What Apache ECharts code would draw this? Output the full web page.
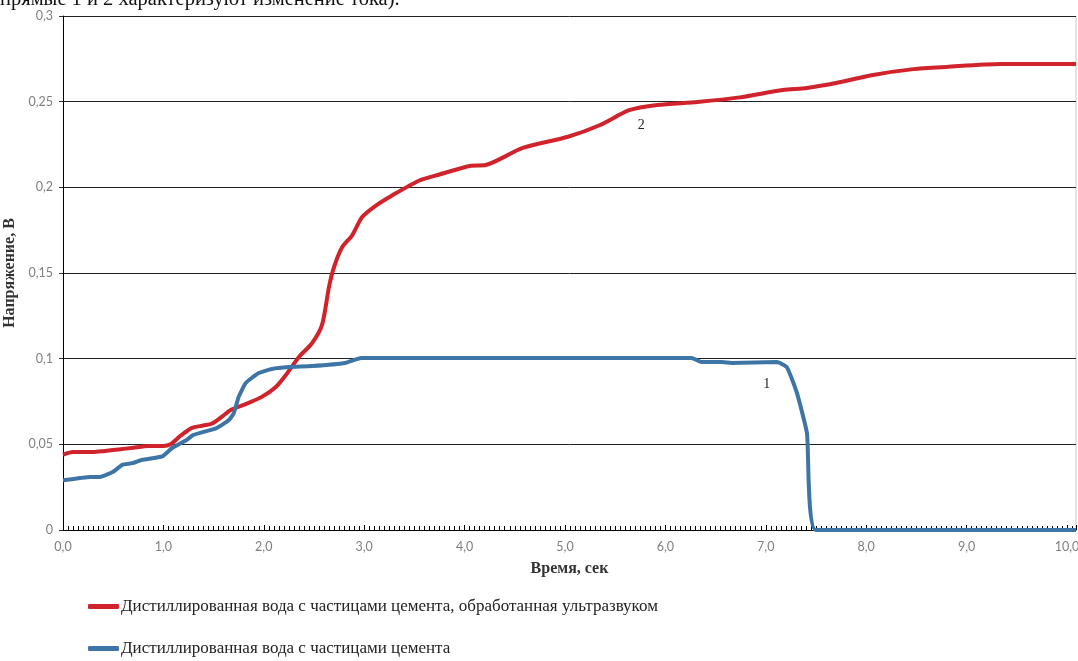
<!DOCTYPE html>
<html>
<head>
<meta charset="utf-8">
<script src="https://cdn.jsdelivr.net/npm/echarts@6/dist/echarts.min.js"></script>
<style>
  html, body { margin: 0; padding: 0; background: #fff; }
  #chart { width: 1078px; height: 661px; }
</style>
</head>
<body>
<div id="chart"></div>
<script>
// Time (s) and voltage (V) for the ultrasound-treated suspension (curve 2)
const timeTreated = [0.00, 0.10, 0.30, 0.40, 0.55, 0.70, 0.85, 1.00, 1.07, 1.17, 1.28, 1.40, 1.48, 1.58, 1.67, 1.82, 1.98, 2.12, 2.22, 2.35, 2.48, 2.58, 2.65, 2.70, 2.78, 2.88, 2.98, 3.12, 3.27, 3.55, 3.75, 4.05, 4.21, 4.58, 5.03, 5.35, 5.64, 5.92, 6.32, 6.74, 7.17, 7.41, 7.71, 8.07, 8.47, 8.80, 9.34, 10.09];
const voltTreated = [0.044, 0.0455, 0.0455, 0.046, 0.047, 0.048, 0.049, 0.049, 0.050, 0.055, 0.0595, 0.061, 0.062, 0.066, 0.070, 0.0735, 0.0777, 0.0835, 0.0905, 0.101, 0.109, 0.1197, 0.142, 0.1535, 0.165, 0.172, 0.1827, 0.1895, 0.195, 0.204, 0.2075, 0.2125, 0.213, 0.223, 0.2295, 0.2364, 0.245, 0.248, 0.2498, 0.2525, 0.2568, 0.258, 0.261, 0.2656, 0.269, 0.2703, 0.272, 0.272];

// Time (s) and voltage (V) for the untreated suspension (curve 1)
const timePlain = [0.00, 0.17, 0.27, 0.37, 0.50, 0.59, 0.69, 0.79, 0.99, 1.09, 1.23, 1.30, 1.53, 1.65, 1.70, 1.75, 1.82, 1.95, 2.08, 2.25, 2.48, 2.81, 2.97, 6.26, 6.36, 6.56, 6.66, 7.11, 7.21, 7.31, 7.41, 7.50, 10.09];
const voltPlain = [0.029, 0.0303, 0.031, 0.031, 0.034, 0.038, 0.039, 0.041, 0.043, 0.048, 0.0525, 0.0555, 0.0595, 0.064, 0.068, 0.0777, 0.0858, 0.0916, 0.094, 0.0951, 0.0957, 0.0975, 0.1004, 0.1004, 0.098, 0.098, 0.0975, 0.098, 0.095, 0.080, 0.0566, 0, 0];

const seriesNames = [
  'Дистиллированная вода с частицами цемента, обработанная ультразвуком',
  'Дистиллированная вода с частицами цемента'
];
const curveLabels = ['2', '1'];
const curveLabelAt = [[5.76, 0.2364], [7.01, 0.0852]];

const xTickLabels = ['0,0', '1,0', '2,0', '3,0', '4,0', '5,0', '6,0', '7,0', '8,0', '9,0', '10,0'];
const yTickLabels = { 0: '0', 0.05: '0,05', 0.1: '0,1', 0.15: '0,15', 0.2: '0,2', 0.25: '0,25', 0.3: '0,3' };
const timeMax = 10.09;

const zip = (xs, ys) => xs.map((x, i) => [x, ys[i]]);

const serif = '"Liberation Serif", "Times New Roman", serif';
const labelFont = 'Lato, "Open Sans", sans-serif';

const chart = echarts.init(document.getElementById('chart'), null, { renderer: 'canvas' });

function curveMark(i) {
  return {
    silent: true,
    symbol: 'circle',
    symbolSize: 0,
    label: {
      show: true,
      formatter: curveLabels[i],
      position: 'inside',
      color: '#222',
      fontFamily: serif,
      fontSize: 14
    },
    data: [{ coord: curveLabelAt[i] }]
  };
}

chart.setOption({
  animation: false,
  backgroundColor: '#fff',
  graphic: [
    {
      type: 'text',
      left: 0,
      top: -11,
      style: {
        text: 'прямые 1 и 2 характеризуют изменение тока).',
        font: '20.5px ' + serif,
        fill: '#111'
      }
    },
    {
      type: 'line',
      shape: { x1: 1076, y1: 16, x2: 1076, y2: 530 },
      style: { stroke: '#c8c8c8', lineWidth: 1 }
    }
  ],
  grid: { left: 63, top: 16, width: 1013, height: 514, containLabel: false, outerBoundsMode: 'none' },
  legend: {
    orient: 'vertical',
    left: 88,
    top: 598,
    padding: 0,
    itemWidth: 31,
    itemHeight: 5,
    itemGap: 25,
    icon: 'roundRect',
    textStyle: { fontFamily: serif, fontSize: 17, color: '#222', padding: [0, 0, 0, -3] },
    data: seriesNames
  },
  xAxis: {
    type: 'value',
    min: 0,
    max: timeMax,
    interval: 1,
    name: 'Время, сек',
    nameLocation: 'middle',
    nameGap: 31,
    nameTextStyle: { fontFamily: serif, fontWeight: 'bold', fontSize: 16, color: '#333' },
    axisLine: { show: true, onZero: false, lineStyle: { color: '#000', width: 1 } },
    axisTick: { show: true, inside: true, length: 5, lineStyle: { color: '#000' } },
    minorTick: { show: true, splitNumber: 20, length: 4, lineStyle: { color: '#000' } },
    splitLine: { show: false },
    axisLabel: {
      margin: 10,
      fontFamily: labelFont,
      fontSize: 12.5,
      color: '#7f7f7f',
      showMaxLabel: false,
      formatter: (v) => (Math.abs(v - Math.round(v)) < 1e-6 ? (xTickLabels[Math.round(v)] ?? '') : '')
    }
  },
  yAxis: {
    type: 'value',
    min: 0,
    max: 0.3,
    interval: 0.05,
    name: 'Напряжение, В',
    nameLocation: 'middle',
    nameGap: 44,
    nameRotate: 90,
    nameTextStyle: { fontFamily: serif, fontWeight: 'bold', fontSize: 16, color: '#333' },
    axisLine: { show: true, lineStyle: { color: '#000', width: 1 } },
    axisTick: { show: true, length: 4, lineStyle: { color: '#333' } },
    splitLine: { show: true, lineStyle: { color: '#222', width: 1 } },
    axisLabel: {
      margin: 10,
      fontFamily: labelFont,
      fontSize: 12.5,
      color: '#7f7f7f',
      formatter: (v) => yTickLabels[Math.round(v * 100) / 100] ?? ''
    }
  },
  series: [
    {
      name: seriesNames[0],
      type: 'line',
      data: zip(timeTreated, voltTreated),
      showSymbol: false,
      smooth: 0.25,
      lineStyle: { color: '#d0232b', width: 4 },
      itemStyle: { color: '#d0232b' },
      z: 3,
      markPoint: curveMark(0)
    },
    {
      name: seriesNames[1],
      type: 'line',
      data: zip(timePlain, voltPlain),
      showSymbol: false,
      smooth: 0.15,
      lineStyle: { color: '#3d76a6', width: 4 },
      itemStyle: { color: '#3d76a6' },
      z: 4,
      markPoint: curveMark(1)
    }
  ]
});
</script>
</body>
</html>
